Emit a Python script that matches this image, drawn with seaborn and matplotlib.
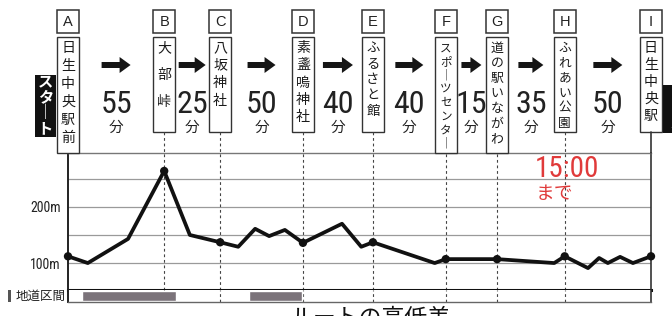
import numpy as np
import pandas as pd
import matplotlib
matplotlib.use("Agg")
import matplotlib.pyplot as plt
import seaborn as sns
from matplotlib import font_manager
from matplotlib.patches import Rectangle, FancyArrow

# ---------------- data ----------------
route_pos = [0, 3.4, 10.3, 16.5, 20.9, 26.1, 29.2, 32.1, 34.5, 37.2, 40.3, 47.0, 50.3,
             52.3, 62.9, 64.8, 73.6, 83.4, 85.2, 89.2, 91.1, 92.6, 94.7, 96.9, 100]
elevation = [112, 100, 143, 264, 150, 137, 129, 161, 148, 159, 136, 170, 129,
             137, 100, 107, 107, 100, 112, 91, 109, 100, 111, 100, 112]
station_letters = ["A", "B", "C", "D", "E", "F", "G", "H", "I"]
station_names = ["日生中央駅前", "大部峠", "八坂神社", "素盞嗚神社", "ふるさと館",
                 "スポーツセンター", "道の駅いながわ", "ふれあい公園", "日生中央駅"]
station_pos = [0, 16.5, 26.1, 40.3, 52.3, 64.8, 73.6, 85.2, 100]
station_elev = [112, 264, 137, 136, 137, 107, 107, 112, 112]
leg_minutes = [55, 25, 50, 40, 40, 15, 35, 50]
road_start = [2.4, 31.0]
road_end = [18.5, 40.1]
grid_levels = [100, 150, 200, 250]
grid_labels = ["100m", "", "200m", ""]
start_label = "スタート"
goal_label = "ゴール"
strip_label = "地道区間"
deadline_label = ["15:00", "まで"]
title = "ルートの高低差"

# ---------------- style ----------------
name_box_bottom = [153, 132, 132, 132, 132, 153, 153, 132, 132]
name_spacing = [18, 27, 17.7, 17.3, 15.7, 13.6, 15.2, 15, 17]
arrow_len = [29, 27, 28, 30, 28, 20, 25, 29]

sns.set_theme(style="white")
plt.rcParams['font.family'] = ['Noto Sans CJK JP', 'DejaVu Sans']

avail = {f.name for f in font_manager.fontManager.ttflist}
narrow = next((f for f in ['Liberation Sans Narrow', 'Roboto Condensed',
                           'Open Sans Condensed'] if f in avail), None)
num_family = [narrow, 'DejaVu Sans'] if narrow else ['Liberation Sans', 'DejaVu Sans']
num_size = 23 if narrow else 18
tick_size = 10 if narrow else 8.5

W, H = 672, 316
fig = plt.figure(figsize=(W / 100, H / 100), dpi=100)
fig.patch.set_facecolor('white')

# main elevation axes
ax = fig.add_axes([68 / W, (H - 290) / H, 583 / W, 137 / H])
ax.set_xlim(0, 100)
ax.set_ylim(52, 296)
df = pd.DataFrame({'pos': route_pos, 'elev': elevation})
sns.lineplot(data=df, x='pos', y='elev', ax=ax, color='#111111', lw=2.7, zorder=4)
sns.scatterplot(x=station_pos, y=station_elev, ax=ax, color='#111111', s=36,
                zorder=5, clip_on=False, edgecolor='none')
ax.set_yticks(grid_levels)
ax.set_yticklabels(grid_labels, family=num_family, fontsize=tick_size, color='#222222')
ax.set_xticks([])
ax.set_xlabel('')
ax.set_ylabel('')
ax.yaxis.grid(True, color='#9a9a9a', lw=0.9)
ax.xaxis.grid(False)
ax.tick_params(axis='y', length=0, pad=5)
ax.set_facecolor('white')
ax.spines['left'].set(color='#222222', lw=1.4)
ax.spines['right'].set(color='#333333', lw=1.2)
ax.spines['top'].set(color='#777777', lw=1.0)
ax.spines['bottom'].set(color='#111111', lw=2.2)
for p in station_pos[1:-1]:
    ax.axvline(p, color='#444444', lw=0.8, ls=(0, (2.5, 2.5)), zorder=1)

# road-section strip
ax2 = fig.add_axes([68 / W, (H - 302) / H, 583 / W, 12 / H])
ax2.set_xlim(0, 100)
ax2.set_ylim(0, 1)
ax2.barh([0.5] * len(road_start), np.subtract(road_end, road_start), left=road_start,
         height=0.9, color='#7b737a', zorder=2)
for p in station_pos[1:-1]:
    ax2.axvline(p, color='#444444', lw=0.8, ls=(0, (2.5, 2.5)), zorder=1)
ax2.set_xticks([])
ax2.set_yticks([])
ax2.spines['top'].set_visible(False)
ax2.spines['bottom'].set(color='#666666', lw=1.0)
ax2.spines['left'].set(color='#222222', lw=1.4)
ax2.spines['right'].set(color='#333333', lw=1.2)

# header overlay in pixel coordinates
hdr = fig.add_axes([0, 0, 1, 1], zorder=10)
hdr.set_xlim(0, W)
hdr.set_ylim(H, 0)
hdr.axis('off')
hdr.patch.set_alpha(0)

sx = [ax.transData.transform((p, 0))[0] for p in station_pos]

for i, (x, letter, name) in enumerate(zip(sx, station_letters, station_names)):
    hdr.add_patch(Rectangle((x - 11, 10), 22, 23, facecolor='white',
                            edgecolor='#333333', lw=1.1))
    hdr.text(x, 22, letter, ha='center', va='center', fontsize=10.5,
             family=['Liberation Sans', 'DejaVu Sans'], color='#222222')
    bot = name_box_bottom[i]
    hdr.add_patch(Rectangle((x - 11, 37), 22, bot - 37, facecolor='white',
                            edgecolor='#333333', lw=1.0))
    sp = name_spacing[i]
    fs = min(14, sp * 0.85) * 0.72
    for k, ch in enumerate(name):
        ch = "｜" if ch == "ー" else ch
        hdr.text(x, 48 + k * sp, ch, ha='center', va='center', fontsize=fs,
                 color='#1a1a1a')
    if 0 < i < len(sx) - 1 and bot < 153:
        hdr.plot([x, x], [bot, 153], color='#444444', lw=0.8, ls=(0, (2.5, 2.5)))
# right frame extension to the last station box
hdr.plot([sx[-1], sx[-1]], [name_box_bottom[-1], 153], color='#333333', lw=1.2)

for i, m in enumerate(leg_minutes):
    mid = (sx[i] + sx[i + 1]) / 2
    L = arrow_len[i]
    hdr.add_patch(FancyArrow(mid - L / 2, 65, L, 0, width=6, head_width=16,
                             head_length=11, length_includes_head=True,
                             color='#151515', lw=0))
    hdr.text(mid, 113, str(m), ha='center', va='baseline', fontsize=num_size,
             family=num_family, color='#222222')
    hdr.text(mid, 132, "分", ha='center', va='baseline', fontsize=10.5, color='#222222')

# start / goal labels
hdr.add_patch(Rectangle((35, 75), 21, 62, facecolor='#111111', edgecolor='none'))
for k, ch in enumerate(start_label):
    ch = "｜" if ch == "ー" else ch
    hdr.text(45.5, 81 + k * 15.7, ch, ha='center', va='center', fontsize=11,
             fontweight='bold', color='white')
hdr.add_patch(Rectangle((663, 85), 30, 48, facecolor='#111111', edgecolor='none',
                        clip_on=False))
for k, ch in enumerate(goal_label):
    ch = "｜" if ch == "ー" else ch
    hdr.text(678, 93 + k * 15, ch, ha='center', va='center', fontsize=11,
             fontweight='bold', color='white')

# strip label
hdr.add_patch(Rectangle((8, 290), 3, 12, facecolor='#555555', edgecolor='none'))
hdr.text(66, 296, strip_label, ha='right', va='center', fontsize=9, color='#222222')

# deadline note
hdr.text(535, 177, deadline_label[0], ha='left', va='baseline', fontsize=num_size - 2,
         family=num_family, color='#e03a3a')
hdr.text(536, 194, deadline_label[1], ha='left', va='center', fontsize=13.5,
         color='#e03a3a')

# title (cut off at the bottom as in the source)
hdr.text(371, 324, title, ha='center', va='baseline', fontsize=16.5, color='#111111')

fig.savefig('out.png', dpi=100, facecolor='white')
